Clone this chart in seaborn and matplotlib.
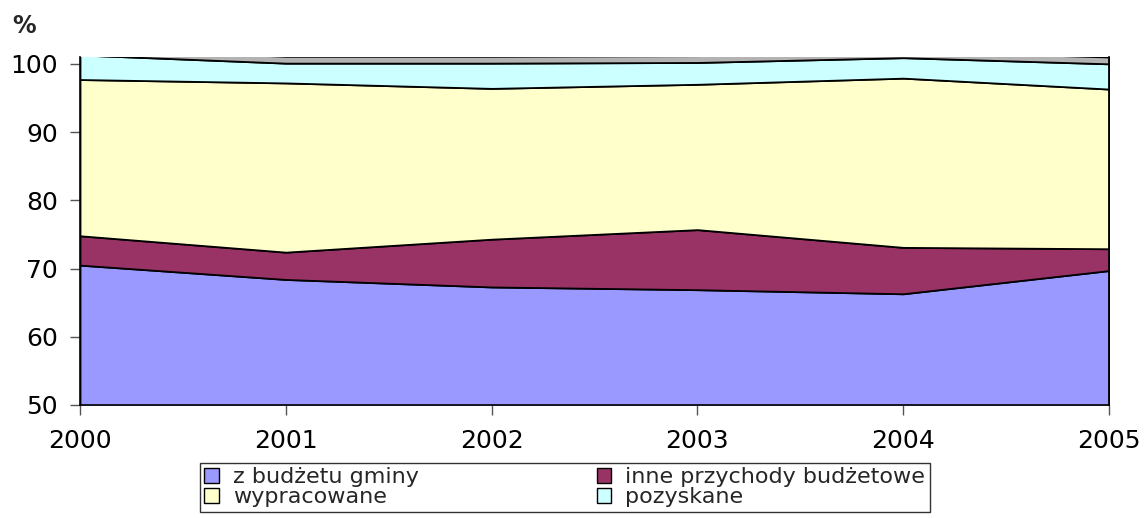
import matplotlib
matplotlib.use("Agg")
import matplotlib.pyplot as plt
import seaborn as sns
from matplotlib.patches import Patch

# Dane (procenty)
years = [2000, 2001, 2002, 2003, 2004, 2005]
z_budzetu_gminy = [70.5, 68.4, 67.3, 66.9, 66.3, 69.7]
inne_przychody = [4.3, 4.0, 7.0, 8.8, 6.8, 3.2]
wypracowane = [22.9, 24.8, 22.1, 21.3, 24.8, 23.4]
pozyskane = [3.6, 2.9, 3.7, 3.2, 3.0, 3.7]
pozostale = [1.0, 1.0, 1.0, 1.0, 1.0, 1.0]

labels = ["z budżetu gminy", "inne przychody budżetowe", "wypracowane", "pozyskane"]
colors = ["#9999FF", "#993366", "#FFFFCC", "#CCFFFF", "#B3B3B3"]

sns.set_theme(style="white")
plt.rcParams['font.family'] = ['DejaVu Sans']

fig = plt.figure(figsize=(11.46, 5.18), dpi=100)
ax = fig.add_axes([80 / 1146, 1 - 405 / 518, 1029 / 1146, 348 / 518])

ax.stackplot(years, z_budzetu_gminy, inne_przychody, wypracowane, pozyskane, pozostale,
             colors=colors, edgecolor='black', linewidth=1.3)

ax.set_xlim(2000, 2005)
ax.set_ylim(50, 101)
ax.set_yticks(range(50, 101, 10))
ax.set_xticks(years)
ax.tick_params(axis='both', direction='out', length=7, width=1, color='#555555',
               labelsize=18, labelcolor='black', bottom=True, left=True)
ax.tick_params(axis='x', pad=10)
ax.tick_params(axis='y', pad=9)
for side in ['left', 'bottom', 'right']:
    ax.spines[side].set_visible(True)
    ax.spines[side].set_color('black')
    ax.spines[side].set_linewidth(1.2)
ax.spines['top'].set_visible(False)

fig.text(12 / 1146, 1 - 26 / 518, "%", fontsize=17, fontweight='bold', va='center')

# legenda wierszami: kolejnosc uchwytow pod ncol=2
order = [0, 2, 1, 3]
handles = [Patch(facecolor=colors[i], edgecolor='black', linewidth=1) for i in order]
fig.legend(handles, [labels[i] for i in order], ncol=2, loc='upper left',
           bbox_to_anchor=(200 / 1146, 1 - 463 / 518), fontsize=16,
           frameon=True, edgecolor='black', fancybox=False,
           handlelength=0.64, handleheight=0.64, handletextpad=0.65,
           columnspacing=8.0, labelspacing=0.0, borderpad=0.2, borderaxespad=0)

fig.savefig("out.png", dpi=100)
